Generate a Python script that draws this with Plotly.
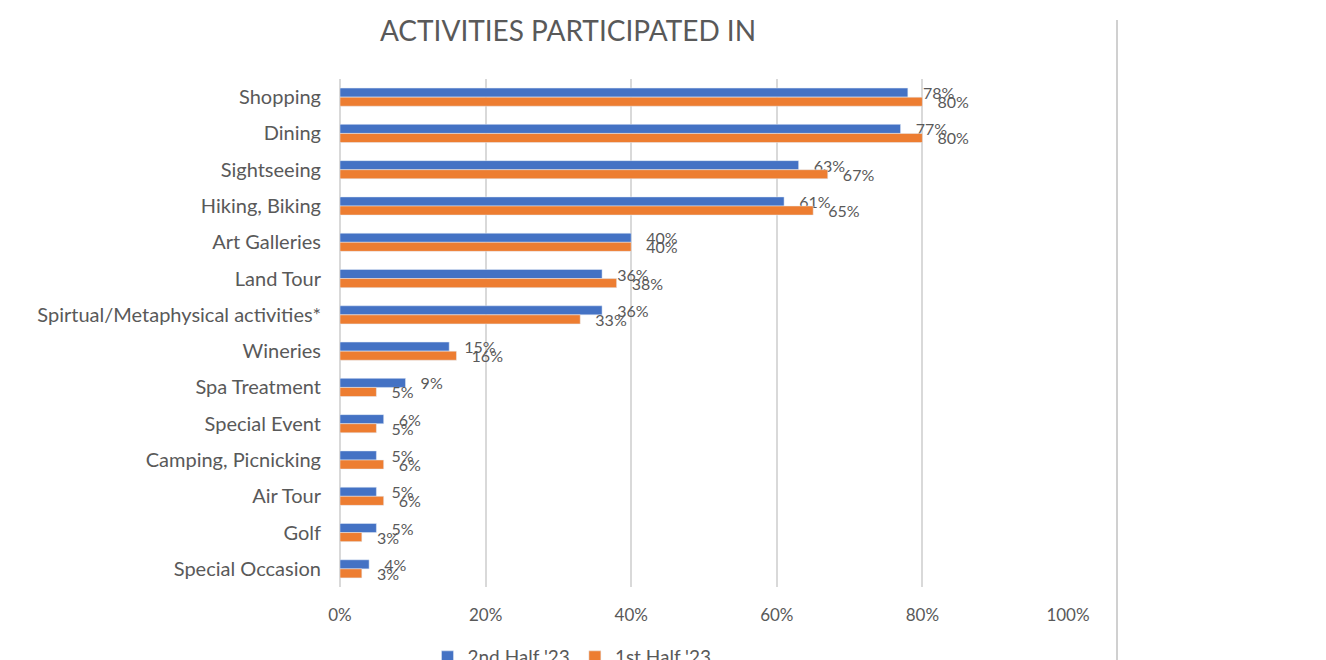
import plotly.graph_objects as go

categories = ["Shopping", "Dining", "Sightseeing", "Hiking, Biking", "Art Galleries",
              "Land Tour", "Spirtual/Metaphysical activities*", "Wineries", "Spa Treatment",
              "Special Event", "Camping, Picnicking", "Air Tour", "Golf", "Special Occasion"]
second_half_23 = [78, 77, 63, 61, 40, 36, 36, 15, 9, 6, 5, 5, 5, 4]
first_half_23 = [80, 80, 67, 65, 40, 38, 33, 16, 5, 5, 6, 6, 3, 3]
tick_vals = [0, 20, 40, 60, 80, 100]
tick_text = ["0%", "20%", "40%", "60%", "80%", "100%"]

FONT = "Lato"
GRAY = "#595959"
PAD = "\u2002\u00a0"

fig = go.Figure()
fig.add_trace(go.Bar(
    y=categories, x=second_half_23, orientation="h",
    name="2nd Half '23", marker_color="#4472C4",
    text=[f"{PAD}{v}%" for v in second_half_23], textposition="outside",
    constraintext="none",
    textfont=dict(size=16, color=GRAY, family=FONT), cliponaxis=False,
))
fig.add_trace(go.Bar(
    y=categories, x=first_half_23, orientation="h",
    name="1st Half '23", marker_color="#ED7D31",
    text=[f"{PAD}{v}%" for v in first_half_23], textposition="outside",
    constraintext="none",
    textfont=dict(size=16, color=GRAY, family=FONT), cliponaxis=False,
))

fig.update_layout(
    width=1326, height=660,
    margin=dict(l=340, r=258, t=79, b=73, autoexpand=False),
    paper_bgcolor="white", plot_bgcolor="white",
    barmode="group", bargap=0.5, bargroupgap=0,
    font=dict(family=FONT, color=GRAY),
    title=dict(text="ACTIVITIES PARTICIPATED IN", x=568 / 1326, xanchor="center",
               y=1 - 31 / 660, yanchor="middle",
               font=dict(size=28, color="#595959", family=FONT)),
    xaxis=dict(range=[0, 100], tickvals=tick_vals, ticktext=tick_text,
               showgrid=True, gridcolor="#d9d9d9", gridwidth=1.5,
               zeroline=True, zerolinecolor="#d9d9d9", zerolinewidth=1.5,
               tickfont=dict(size=17, color=GRAY, family=FONT), ticks="", ticklen=0,
               ticklabelstandoff=16, automargin=False),
    yaxis=dict(autorange="reversed", showgrid=False, ticks="", ticklen=0,
               tickfont=dict(size=20, color=GRAY, family=FONT),
               ticklabelstandoff=18, automargin=False),
    legend=dict(orientation="h", x=(572 - 340) / 728, xanchor="center",
                yref="container", y=1 - 657 / 660, yanchor="middle",
                font=dict(size=19, color=GRAY, family=FONT), traceorder="normal"),
    shapes=[dict(type="line", xref="paper", yref="paper",
                 x0=(1117 - 340) / 728, x1=(1117 - 340) / 728,
                 y0=(587 - 20) / 508, y1=(587 - 662) / 508,
                 line=dict(color="#d0d0d0", width=2))],
)

fig.write_html("out.html")
